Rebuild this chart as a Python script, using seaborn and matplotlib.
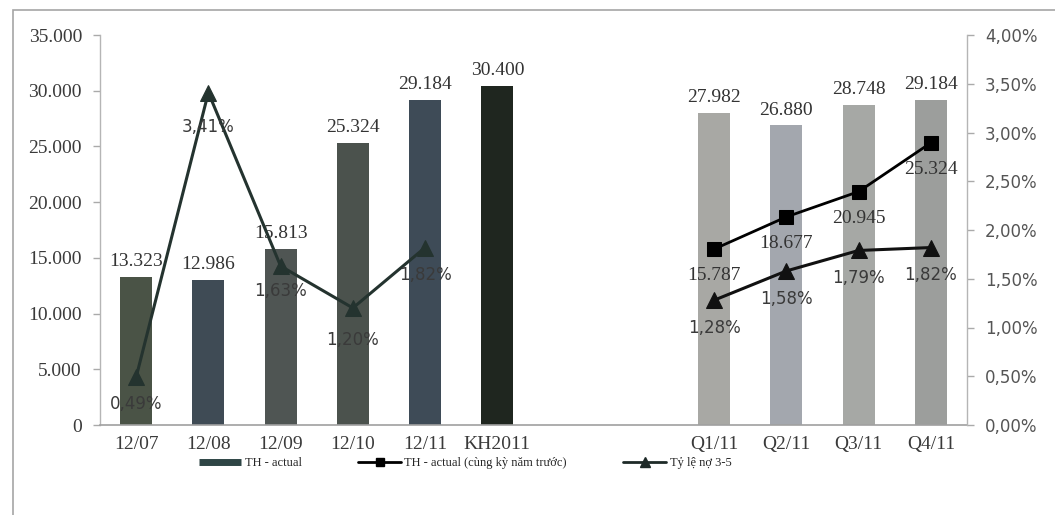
import numpy as np
import pandas as pd
import matplotlib
matplotlib.use("Agg")
import matplotlib.pyplot as plt
from matplotlib.lines import Line2D
from matplotlib.patches import Rectangle
import seaborn as sns

# ---------------- data ----------------
order = ["12/07", "12/08", "12/09", "12/10", "12/11", "KH2011", " ", "  ",
         "Q1/11", "Q2/11", "Q3/11", "Q4/11"]
bar_cats = ["12/07", "12/08", "12/09", "12/10", "12/11", "KH2011",
            "Q1/11", "Q2/11", "Q3/11", "Q4/11"]
bar_vals = [13323, 12986, 15813, 25324, 29184, 30400, 27982, 26880, 28748, 29184]

prev_cats = ["Q1/11", "Q2/11", "Q3/11", "Q4/11"]
prev_vals = [15787, 18677, 20945, 25324]

ratio_cats_a = ["12/07", "12/08", "12/09", "12/10", "12/11"]
ratio_vals_a = [0.49, 3.41, 1.63, 1.20, 1.82]
ratio_cats_b = ["Q1/11", "Q2/11", "Q3/11", "Q4/11"]
ratio_vals_b = [1.28, 1.58, 1.79, 1.82]

bar_colors = ["#4a5346", "#3f4b55", "#4f5553", "#4b524d", "#3e4b57", "#1f261f",
              "#a8a8a4", "#a3a7ae", "#a6a8a5", "#9c9e9c"]

legend_labels = ["TH - actual", "TH - actual (cùng kỳ năm trước)", "Tỷ lệ nợ 3-5"]

# ---------------- style ----------------
sns.set_theme(style="white")
plt.rcParams["font.family"] = ["Liberation Serif", "DejaVu Serif"]
SERIF = ["Liberation Serif", "DejaVu Serif"]
SANS = ["DejaVu Sans"]

W, H = 1055, 515
fig = plt.figure(figsize=(W / 100, H / 100), dpi=100)
ax = fig.add_axes([100 / W, 1 - 425 / H, (967 - 100) / W, (425 - 35) / H])

bars_df = pd.DataFrame({"cat": bar_cats, "val": bar_vals})
palette = dict(zip(bar_cats, bar_colors))
sns.barplot(data=bars_df, x="cat", y="val", hue="cat", order=order,
            palette=palette, legend=False, width=0.44, ax=ax,
            saturation=1, edgecolor="none")

ax.set_ylim(0, 35000)
ax.set_xlim(-0.5, len(order) - 0.5)
ax.set_yticks(np.arange(0, 35001, 5000))
ax.set_yticklabels([f"{int(v):,}".replace(",", ".") for v in np.arange(0, 35001, 5000)],
                   fontfamily=SERIF, fontsize=14, color="#3a3a3a")
ax.set_xticks(range(len(order)))
ax.set_xticklabels(order, fontfamily=SERIF, fontsize=14, color="#3a3a3a")
ax.set_xlabel("")
ax.set_ylabel("")
ax.tick_params(axis="y", length=5, color="#aaaaaa", width=1, pad=8, left=True, direction="out")
ax.tick_params(axis="x", length=0, pad=8)
for s in ["top", "right"]:
    ax.spines[s].set_visible(False)
ax.spines["left"].set_color("#b5b5b5")
ax.spines["bottom"].set_color("#a0a0a0")
ax.spines["left"].set_linewidth(1)
ax.spines["bottom"].set_linewidth(1.2)

# bar value labels
for c, v in zip(bar_cats, bar_vals):
    ax.annotate(f"{v:,}".replace(",", "."), (order.index(c), v),
                xytext=(0, 5), textcoords="offset points", ha="center", va="bottom",
                fontfamily=SERIF, fontsize=14, color="#333333")

# previous year line (left axis)
prev_df = pd.DataFrame({"x": [order.index(c) for c in prev_cats], "y": prev_vals})
sns.lineplot(data=prev_df, x="x", y="y", ax=ax, color="black", linewidth=2,
             marker="s", markersize=10, markeredgecolor="black", zorder=5)
for c, v in zip(prev_cats, prev_vals):
    ax.annotate(f"{v:,}".replace(",", "."), (order.index(c), v),
                xytext=(0, -19), textcoords="offset points", ha="center", va="center",
                fontfamily=SERIF, fontsize=14, color="#333333", zorder=6)
ax.set_xlabel("")
ax.set_ylabel("")

# ratio line (right axis)
ax2 = ax.twinx()
ax2.set_position(ax.get_position())
ra = pd.DataFrame({"x": [order.index(c) for c in ratio_cats_a], "y": ratio_vals_a})
rb = pd.DataFrame({"x": [order.index(c) for c in ratio_cats_b], "y": ratio_vals_b})
sns.lineplot(data=ra, x="x", y="y", ax=ax2, color="#24332f", linewidth=2.2,
             marker="^", markersize=11, markeredgecolor="#24332f")
sns.lineplot(data=rb, x="x", y="y", ax=ax2, color="#111111", linewidth=2.2,
             marker="^", markersize=11, markeredgecolor="#111111")
ax2.set_ylim(0, 4)
ax2.set_xlim(-0.5, len(order) - 0.5)
pt = np.arange(0, 4.001, 0.5)
ax2.set_yticks(pt)
ax2.set_yticklabels([f"{v:.2f}%".replace(".", ",") for v in pt],
                    fontfamily=SANS, fontsize=12, color="#555555")
ax2.tick_params(axis="y", length=5, color="#aaaaaa", width=1, pad=8, right=True, direction="out")
ax2.set_xlabel("")
ax2.set_ylabel("")
for s in ["top", "left", "bottom"]:
    ax2.spines[s].set_visible(False)
ax2.spines["right"].set_color("#b5b5b5")
ax2.spines["right"].set_linewidth(1)

ratio_offsets_a = [-19, -25, -18, -23, -20]
for c, v, off in zip(ratio_cats_a, ratio_vals_a, ratio_offsets_a):
    ax2.annotate(f"{v:.2f}%".replace(".", ","), (order.index(c), v),
                 xytext=(0, off), textcoords="offset points", ha="center", va="center",
                 fontfamily=SANS, fontsize=12, color="#3a3a3a")
for c, v in zip(ratio_cats_b, ratio_vals_b):
    ax2.annotate(f"{v:.2f}%".replace(".", ","), (order.index(c), v),
                 xytext=(0, -20), textcoords="offset points", ha="center", va="center",
                 fontfamily=SANS, fontsize=12, color="#3a3a3a")

# legend
handles = [
    Line2D([], [], color="#2e4545", linewidth=5, solid_capstyle="butt"),
    Line2D([], [], color="black", linewidth=2, marker="s", markersize=6),
    Line2D([], [], color="#1e2a28", linewidth=2, marker="^", markersize=7),
]
fig.legend(handles, legend_labels, loc="center", bbox_to_anchor=(465 / W, 1 - 463 / H),
           ncol=3, frameon=False, prop={"family": SERIF, "size": 9},
           handlelength=3.4, handletextpad=0.3, columnspacing=4.5)

# outer chart border (partially visible in the scan)
fig.patches.append(Rectangle((13 / W, -0.05), 1.1, 1 - 10 / H + 0.05,
                             transform=fig.transFigure, fill=False,
                             edgecolor="#a5a5a5", linewidth=1.2))

fig.savefig("out.png", dpi=100, facecolor="white")
